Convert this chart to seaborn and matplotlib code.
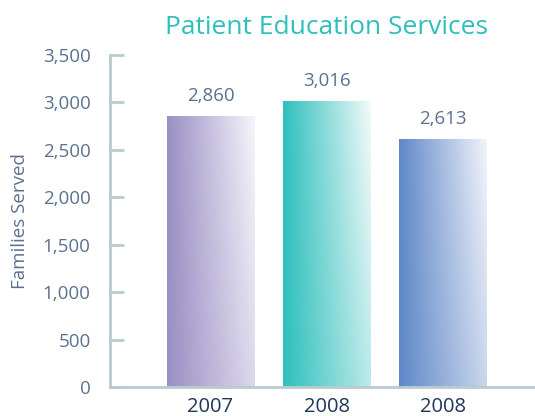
import numpy as np
import pandas as pd
import seaborn as sns
import matplotlib.pyplot as plt
from matplotlib.colors import LinearSegmentedColormap

# data
years = ["2007", "2008", "2008 "]
tick_labels = ["2007", "2008", "2008"]
families = [2860, 3016, 2613]
value_labels = ["2,860", "3,016", "2,613"]
bar_colors = ["#9a8fc4", "#2ec0bd", "#5f88c8"]
end_colors = ["#f6f5fb", "#f2fafa", "#f2f4fb"]

df = pd.DataFrame({"year": years, "families": families})

sns.set_style("white")
plt.rcParams['font.family'] = ['Open Sans', 'DejaVu Sans']

fig = plt.figure(figsize=(5.35, 4.16), dpi=100)
ax = fig.add_axes([0.2056, 0.0697, 0.7944, 0.7981])

sns.barplot(data=df, x="year", y="families", hue="year", palette=bar_colors,
            width=0.75, legend=False, ax=ax, saturation=1)

# gradient fill: colour on the left fading toward white on the right,
# fading less near the bottom of the bar
xx, yy = np.meshgrid(np.linspace(0, 1, 200), np.linspace(0, 1, 200))
grad = xx * (0.72 + 0.28 * yy)
for patch, c0, c1 in zip(ax.patches, bar_colors, end_colors):
    x0, y0 = patch.get_x(), patch.get_y()
    w, h = patch.get_width(), patch.get_height()
    cmap = LinearSegmentedColormap.from_list("g", [c0, c1])
    im = ax.imshow(grad, extent=[x0, x0 + w, y0, y0 + h], aspect="auto",
                   origin="lower", cmap=cmap, vmin=0, vmax=1,
                   zorder=patch.get_zorder() + 0.1)
    im.set_clip_path(patch)

ax.set_xlim(-0.866, 2.797)
ax.set_ylim(0, 3500)

for i, (v, lab) in enumerate(zip(families, value_labels)):
    ax.annotate(lab, (i, v), xytext=(0, 8), textcoords="offset points",
                ha="center", va="bottom", fontsize=13.5, color="#5b7190")

spine_c = "#b9cbcf"
for s in ["top", "right"]:
    ax.spines[s].set_visible(False)
for s in ["left", "bottom"]:
    ax.spines[s].set_color(spine_c)
    ax.spines[s].set_linewidth(2)

ax.set_yticks(range(0, 3501, 500))
ax.set_yticklabels([f"{t:,}" for t in range(0, 3501, 500)])
ax.tick_params(axis="y", direction="in", length=10, width=2, color=spine_c,
               labelsize=13.5, labelcolor="#5b7190", pad=14, left=True)
ax.set_xticks(range(3))
ax.set_xticklabels(tick_labels)
ax.tick_params(axis="x", length=0, labelsize=14.5, labelcolor="#1f3559", pad=7)

ax.set_xlabel("")
ax.set_ylabel("Families Served", fontsize=13.5, color="#5b7190", labelpad=10)
fig.text(0.61, 0.935, "Patient Education Services", ha="center", va="center",
         fontsize=19, color="#2ebfbd")

fig.savefig("out.png", dpi=100)
